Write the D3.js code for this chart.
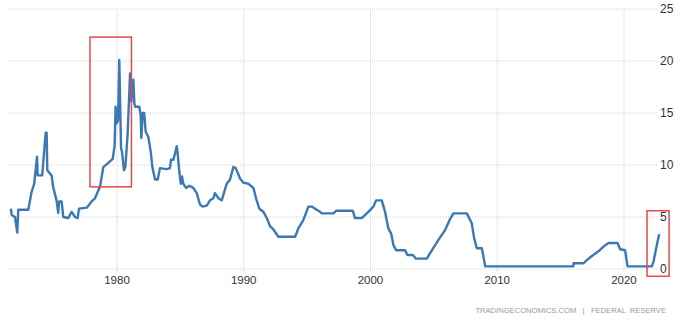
<!DOCTYPE html>
<html>
<head>
<meta charset="utf-8">
<script src="https://cdn.jsdelivr.net/npm/d3@7"></script>
<style>
  body { margin: 0; background: #fff; }
  svg { display: block; font-family: "Liberation Sans", Arial, sans-serif; }
</style>
</head>
<body>
<div id="chart"></div>
<script>
// fed funds rate (decimal year, percent)
const years = [
  1971.63, 1971.69, 1971.95, 1972.13, 1972.21, 1973.0, 1973.26, 1973.47, 1973.69, 1973.74,
  1974.10, 1974.18, 1974.37, 1974.45, 1974.50, 1974.84, 1974.96, 1975.23, 1975.36, 1975.44,
  1975.63, 1975.76, 1976.16, 1976.42, 1976.69, 1976.90, 1977.0, 1977.61, 1978.0, 1978.26,
  1978.66, 1978.92, 1979.31, 1979.66, 1979.81, 1979.89, 1979.98, 1980.08, 1980.18, 1980.32,
  1980.39, 1980.55, 1980.66, 1980.84, 1981.03, 1981.13, 1981.29, 1981.37, 1981.44, 1981.76,
  1981.87, 1981.92, 1982.03, 1982.15, 1982.26, 1982.47, 1982.66, 1982.79, 1983.0, 1983.21,
  1983.39, 1983.92, 1984.18, 1984.26, 1984.44, 1984.58, 1984.71, 1984.78, 1984.91, 1985.03,
  1985.13, 1985.23, 1985.45, 1985.71, 1986.02, 1986.29, 1986.55, 1986.76, 1987.08, 1987.34,
  1987.60, 1987.73, 1988.0, 1988.26, 1988.66, 1988.92, 1989.18, 1989.37, 1989.71, 1989.97,
  1990.36, 1990.76, 1990.97, 1991.23, 1991.55, 1991.82, 1992.08, 1992.34, 1992.73, 1994.05,
  1994.31, 1994.70, 1995.10, 1995.37, 1995.63, 1996.02, 1996.16, 1997.07, 1997.29, 1998.60,
  1998.78, 1999.31, 1999.71, 2000.23, 2000.44, 2000.89, 2001.15, 2001.41, 2001.63, 2001.81,
  2002.02, 2002.73, 2002.91, 2003.34, 2003.58, 2004.44, 2004.84, 2005.36, 2005.89, 2006.28,
  2006.54, 2007.60, 2007.99, 2008.18, 2008.39, 2008.79, 2009.05, 2016.01, 2016.02, 2016.80,
  2017.07, 2017.47, 2017.99, 2018.38, 2018.78, 2019.49, 2019.70, 2020.09, 2020.28, 2022.20,
  2022.33, 2022.59, 2022.78
];
const rates = [
  5.8, 5.2, 5.0, 3.5, 5.7, 5.7, 7.4, 8.2, 10.8, 9.0,
  9.0, 10.2, 13.1, 13.1, 9.5, 9.0, 7.9, 6.6, 5.4, 6.5,
  6.5, 5.0, 4.9, 5.5, 5.0, 4.9, 5.8, 5.9, 6.5, 6.8,
  7.9, 9.8, 10.2, 10.6, 11.8, 15.6, 14.0, 14.3, 20.1, 11.6,
  11.3, 9.5, 9.8, 13.0, 18.8, 16.1, 18.2, 15.9, 15.6, 15.6,
  14.8, 12.6, 15.0, 15.0, 13.2, 12.7, 11.3, 9.8, 8.6, 8.6,
  9.7, 9.6, 9.7, 10.5, 10.5, 11.1, 11.8, 11.2, 9.4, 8.2,
  8.9, 8.2, 7.8, 8.0, 7.8, 7.3, 6.2, 6.0, 6.1, 6.6,
  6.8, 7.3, 6.8, 6.6, 8.2, 8.6, 9.8, 9.7, 8.7, 8.3,
  8.2, 7.8, 6.8, 5.8, 5.5, 4.9, 4.1, 3.8, 3.1, 3.1,
  3.9, 4.7, 6.0, 6.0, 5.8, 5.5, 5.35, 5.35, 5.6, 5.6,
  4.9, 4.9, 5.35, 6.0, 6.6, 6.6, 5.5, 3.9, 3.4, 2.3,
  1.8, 1.8, 1.35, 1.35, 1.0, 1.0, 1.8, 2.8, 3.75, 4.8,
  5.35, 5.35, 4.4, 2.95, 2.0, 2.0, 0.25, 0.25, 0.55, 0.55,
  0.85, 1.25, 1.7, 2.15, 2.5, 2.5, 1.9, 1.8, 0.25, 0.25,
  0.7, 2.3, 3.35
];
const xTicks = [1980, 1990, 2000, 2010, 2020];
const yTicks = [0, 5, 10, 15, 20, 25];
// highlight boxes in data units: [year0, year1, rateTop, rateBottom]
const boxes = [
  [1977.87, 1981.14, 22.3, 7.9],
  [2021.82, 2023.56, 5.6, -0.7]
];

const width = 688, height = 322;
const svg = d3.select("#chart").append("svg")
  .attr("width", width)
  .attr("height", height);

const x = d3.scaleLinear().domain([1971.4, 2023]).range([8, 662]);
const y = d3.scaleLinear().domain([0, 25]).range([269, 9]);

// vertical grid
svg.append("g")
  .selectAll("line")
  .data(xTicks)
  .join("line")
  .attr("x1", d => x(d)).attr("x2", d => x(d))
  .attr("y1", y(25)).attr("y2", y(0) + 3)
  .attr("stroke", "#e6e6e6")
  .attr("stroke-width", 1);

// horizontal grid, dotted
svg.append("g")
  .selectAll("line")
  .data(yTicks)
  .join("line")
  .attr("x1", 8).attr("x2", 657)
  .attr("y1", d => y(d)).attr("y2", d => y(d))
  .attr("stroke", "#d4d4d4")
  .attr("stroke-dasharray", "1,1")
  .attr("stroke-width", 1);

// y labels on right
svg.append("g")
  .selectAll("text")
  .data(yTicks)
  .join("text")
  .attr("x", 660)
  .attr("y", d => y(d))
  .attr("dy", "0.35em")
  .attr("font-size", 12)
  .attr("fill", "#333")
  .text(d => d);

// x labels
svg.append("g")
  .selectAll("text")
  .data(xTicks)
  .join("text")
  .attr("x", d => x(d))
  .attr("y", 284)
  .attr("text-anchor", "middle")
  .attr("font-size", 11.5)
  .attr("fill", "#333")
  .text(d => d);

const points = years.map((yr, i) => [yr, rates[i]]);
const line = d3.line()
  .x(d => x(d[0]))
  .y(d => y(d[1]));

svg.append("path")
  .datum(points)
  .attr("d", line)
  .attr("fill", "none")
  .attr("stroke", "#3b78b4")
  .attr("stroke-width", 2.4)
  .attr("stroke-linejoin", "round");

// red highlight boxes
svg.append("g")
  .selectAll("rect")
  .data(boxes)
  .join("rect")
  .attr("x", d => x(d[0]))
  .attr("y", d => y(d[2]))
  .attr("width", d => x(d[1]) - x(d[0]))
  .attr("height", d => y(d[3]) - y(d[2]))
  .attr("fill", "none")
  .attr("stroke", "#e5484d")
  .attr("stroke-width", 1.5);

svg.append("text")
  .attr("x", 666)
  .attr("y", 313)
  .attr("text-anchor", "end")
  .attr("font-size", 7.6)
  .attr("fill", "#9a9a9a")
  .style("white-space", "pre")
  .text("TRADINGECONOMICS.COM   |   FEDERAL  RESERVE");
</script>
</body>
</html>
